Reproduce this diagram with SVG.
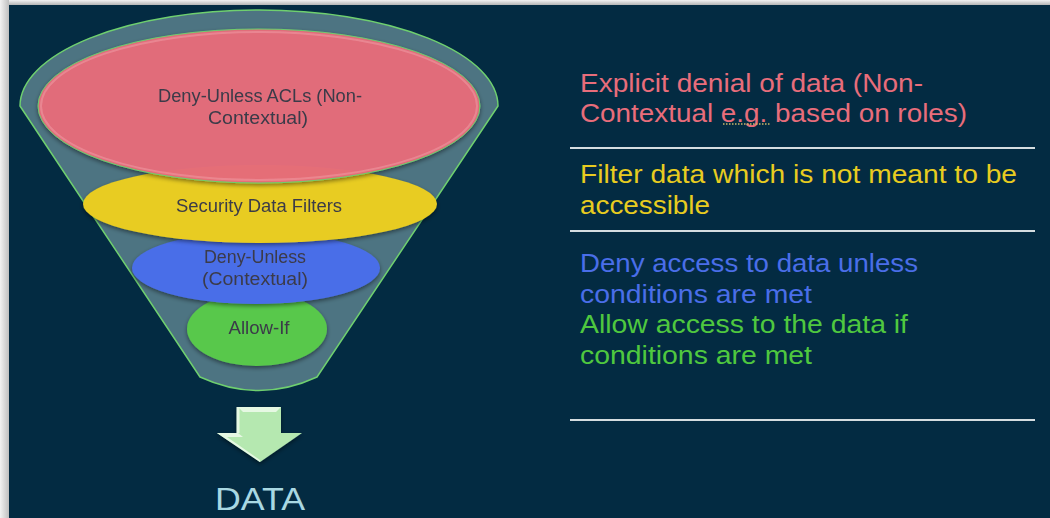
<svg xmlns="http://www.w3.org/2000/svg" width="1050" height="518" viewBox="0 0 1050 518">
<defs>
<linearGradient id="edgeL" x1="0" y1="0" x2="1" y2="0">
<stop offset="0" stop-color="#f2f2f2"/><stop offset="1" stop-color="#bfbfbf"/>
</linearGradient>
<linearGradient id="edgeT" x1="0" y1="0" x2="0" y2="1">
<stop offset="0" stop-color="#f2f2f2"/><stop offset="1" stop-color="#b5b5b5"/>
</linearGradient>
<filter id="sh" x="-10%" y="-10%" width="120%" height="130%">
<feDropShadow dx="0" dy="2" stdDeviation="2" flood-color="#000" flood-opacity="0.45"/>
</filter>
<style>
.lbl{font-family:"Liberation Sans",Arial,sans-serif;font-size:17.5px;fill:#3b3b48;text-anchor:middle}
.rt{font-family:"Liberation Sans",Arial,sans-serif;font-size:25px}
.sep{stroke:#d5dde0;stroke-width:2}
</style>
</defs>
<rect x="0" y="0" width="1050" height="518" fill="#d6d6d6"/>
<rect x="0" y="0" width="1050" height="5" fill="url(#edgeT)"/>
<rect x="0" y="0" width="9" height="518" fill="url(#edgeL)"/>
<rect x="9" y="5" width="1041" height="513" fill="#032b42"/>

<g id="funnel">
<path d="M20,106 A239,96 0 0 1 498,106 L317,377 Q259,404 200,377 Z" fill="#4d7482" stroke="#6fd06f" stroke-width="1.5" stroke-linejoin="round"/>
</g>
<g id="node-allow-if" filter="url(#sh)">
<ellipse cx="257" cy="329" rx="70" ry="37" fill="#58c84b"/>
<text class="lbl" x="259" y="334" textLength="61" lengthAdjust="spacingAndGlyphs">Allow-If</text>
</g>
<g id="node-deny-unless-contextual" filter="url(#sh)">
<ellipse cx="256" cy="268" rx="124" ry="36" fill="#4a6ee8"/>
<text class="lbl" x="255" y="263" textLength="102" lengthAdjust="spacingAndGlyphs">Deny-Unless</text>
<text class="lbl" x="255" y="285" textLength="106" lengthAdjust="spacingAndGlyphs">(Contextual)</text>
</g>
<g id="node-security-filters" filter="url(#sh)">
<ellipse cx="260" cy="204" rx="177" ry="39" fill="#e8cc20"/>
<text class="lbl" x="259" y="212" textLength="166" lengthAdjust="spacingAndGlyphs">Security Data Filters</text>
</g>
<g id="node-deny-unless-acls" filter="url(#sh)">
<ellipse cx="259" cy="106" rx="221" ry="77" fill="#e86d7b" fill-opacity="0.95" stroke="#6ccf6c" stroke-width="1"/>
<ellipse cx="259" cy="106" rx="218" ry="74" fill="none" stroke="#f2a0a8" stroke-width="2" opacity="0.5"/>
<text class="lbl" x="260" y="102" textLength="204" lengthAdjust="spacingAndGlyphs">Deny-Unless ACLs (Non-</text>
<text class="lbl" x="258" y="124" textLength="100" lengthAdjust="spacingAndGlyphs">Contextual)</text>
</g>

<g id="connectors">
<g id="arrow-data" filter="url(#sh)">
<polygon points="238,407 281,407 281,433 302,433 260,462 217,433 238,433" fill="#b5e8b0"/>
<polygon points="238,407 281,407 276,412 243,412" fill="#e6f8e3"/>
<polygon points="217,433 238,433 243,437 227,437 260,460 260,462" fill="#e6f8e3"/>
<polyline points="238,407 238,433" stroke="#e6f8e3" stroke-width="3" fill="none"/>
</g>
</g>
<g id="node-data">
<text x="260" y="510" font-family="'Liberation Sans',Arial,sans-serif" font-size="32" fill="#a9d8e2" text-anchor="middle" textLength="90" lengthAdjust="spacingAndGlyphs">DATA</text>
</g>

<g id="descriptions">
<text class="rt" fill="#e86d7b"><tspan x="580" y="92" textLength="343" lengthAdjust="spacingAndGlyphs">Explicit denial of data (Non-</tspan></text>
<text class="rt" fill="#e86d7b"><tspan x="580" y="122" textLength="387" lengthAdjust="spacingAndGlyphs">Contextual e.g. based on roles)</tspan></text>
<line x1="723" y1="124" x2="771" y2="124" stroke="#c9b86a" stroke-width="1.5" stroke-dasharray="1.5,1.5"/>
<line class="sep" x1="570" y1="148" x2="1035" y2="148"/>
<text class="rt" fill="#e8cc20"><tspan x="580" y="183" textLength="437" lengthAdjust="spacingAndGlyphs">Filter data which is not meant to be</tspan></text>
<text class="rt" fill="#e8cc20"><tspan x="580" y="214" textLength="130" lengthAdjust="spacingAndGlyphs">accessible</tspan></text>
<line class="sep" x1="570" y1="231" x2="1035" y2="231"/>
<text class="rt" fill="#4a6ee8"><tspan x="580" y="272" textLength="338" lengthAdjust="spacingAndGlyphs">Deny access to data unless</tspan></text>
<text class="rt" fill="#4a6ee8"><tspan x="580" y="303" textLength="232" lengthAdjust="spacingAndGlyphs">conditions are met</tspan></text>
<text class="rt" fill="#4fc83f"><tspan x="580" y="333" textLength="328" lengthAdjust="spacingAndGlyphs">Allow access to the data if</tspan></text>
<text class="rt" fill="#4fc83f"><tspan x="580" y="364" textLength="232" lengthAdjust="spacingAndGlyphs">conditions are met</tspan></text>
<line class="sep" x1="570" y1="420" x2="1035" y2="420"/>
</g>
</svg>
